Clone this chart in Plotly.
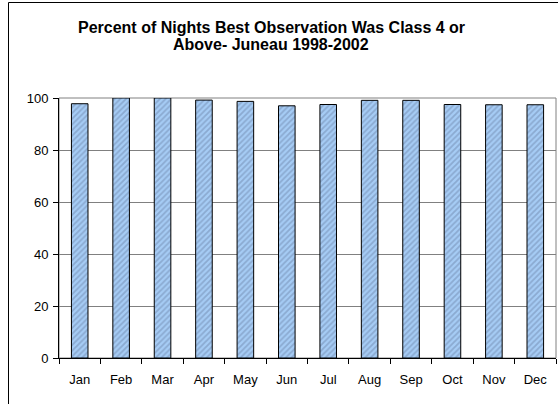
import plotly.graph_objects as go

months = ["Jan", "Feb", "Mar", "Apr", "May", "Jun", "Jul", "Aug", "Sep", "Oct", "Nov", "Dec"]
percent = [97.8, 100, 100, 99.2, 98.7, 97.0, 97.5, 99.1, 99.1, 97.5, 97.4, 97.4]
y_ticks = [0, 20, 40, 60, 80, 100]
title_lines = ["Percent of Nights Best Observation Was Class 4 or", "Above- Juneau 1998-2002"]

W, H = 558, 404
ml, mr, mt, mb = 59, 2, 98, 46
pw = W - ml - mr
ph = H - mt - mb
FONT = "Liberation Sans, Arial, sans-serif"

fig = go.Figure()
fig.add_trace(go.Bar(
    x=months, y=percent,
    marker=dict(
        color="#99CCFF",
        line=dict(color="#000000", width=1),
        pattern=dict(shape="/", fgcolor="#6F88AD", bgcolor="#A6CCF5", size=4, solidity=0.45),
    ),
    width=0.4,
))

fig.update_layout(
    width=W, height=H,
    margin=dict(l=ml, r=mr, t=mt, b=mb),
    paper_bgcolor="white", plot_bgcolor="white",
    showlegend=False,
    font=dict(family=FONT, size=13, color="black"),
    xaxis=dict(
        showline=True, linecolor="black", linewidth=1,
        ticks="outside", ticklen=5, tickcolor="black", tickson="boundaries",
        showgrid=False, ticklabelstandoff=9,
    ),
    yaxis=dict(
        range=[0, 100], tickvals=y_ticks,
        showline=True, linecolor="black", linewidth=1,
        ticks="outside", ticklen=5, tickcolor="black",
        showgrid=True, gridcolor="#808080", gridwidth=1,
        zeroline=False, ticklabelstandoff=2,
    ),
)

for i, line in enumerate(title_lines):
    fig.add_annotation(
        text="<b>" + line + "</b>", showarrow=False,
        xref="paper", yref="paper",
        x=(271 - ml) / pw, xanchor="center",
        y=1 + (mt - (27 + 17 * i)) / ph, yanchor="middle",
        font=dict(size=16, family=FONT, color="black"),
    )

# plot area border (gray) and outer chart border
fig.add_shape(type="rect", xref="paper", yref="paper", x0=0, x1=1, y0=0, y1=1,
              line=dict(color="#808080", width=1), layer="below")
fig.add_shape(type="rect", xref="paper", yref="paper",
              x0=(8.5 - ml) / pw, x1=1 + 10 / pw,
              y0=-(mb + 10) / ph, y1=1 + (mt - 2.5) / ph,
              line=dict(color="#000000", width=1))

fig.write_html("out.html", config={"displayModeBar": False},
               post_script="document.body.style.margin='0px';")
